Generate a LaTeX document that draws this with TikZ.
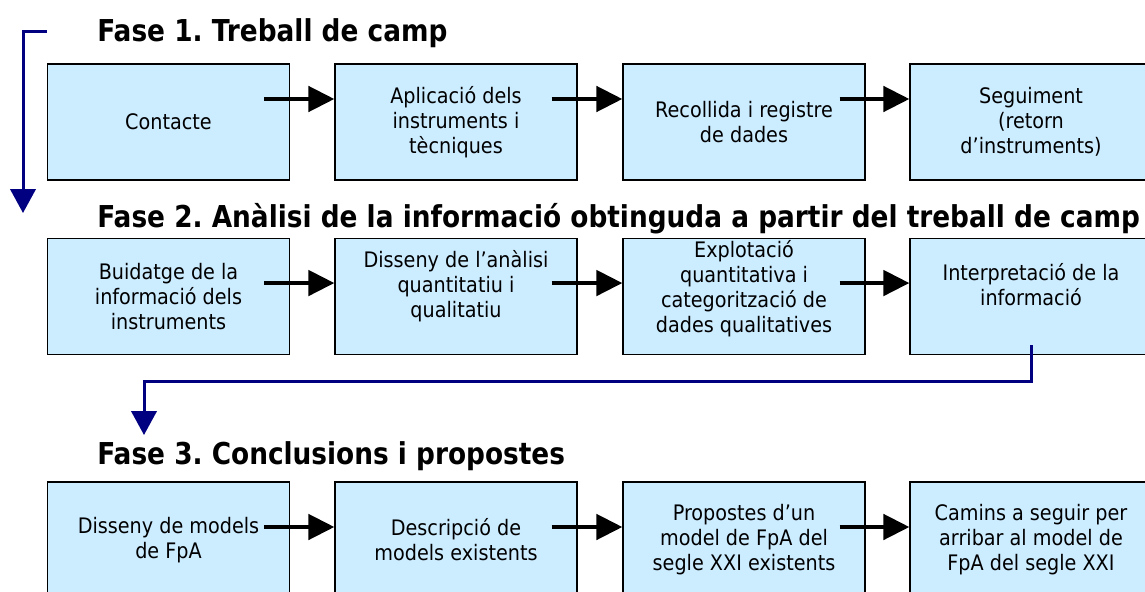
\documentclass[tikz,border=0pt]{standalone}
\usepackage{fontspec}
\setmainfont[FakeStretch=0.9]{DejaVu Sans}
\newfontfamily\fasefont[FakeStretch=0.875]{DejaVu Sans}
\usetikzlibrary{arrows.meta}
\definecolor{blaucel}{RGB}{204,236,255}
\definecolor{blaufosc}{RGB}{0,0,128}
\frenchspacing
% text d'una caixa una mica per sobre del centre
\newcommand{\textamunt}[2]{\raisebox{#1}[\height][\depth]{\begin{tabular}{@{}c@{}}#2\end{tabular}}}

\begin{document}
\begin{tikzpicture}[x=0.75pt,y=-0.75pt,
    caixa/.style={draw=black,line width=1pt,fill=blaucel,minimum width=181.5pt,minimum height=87pt,
        align=center,inner sep=2pt,font=\fontsize{16}{18.75}\selectfont},
    fase/.style={anchor=base west,inner sep=0pt,font=\fasefont\bfseries\fontsize{22.6}{27}\selectfont},
    fletxa/.style={line width=3pt,-{Triangle[length=19.5pt,width=19pt]}},
    salt/.style={draw=blaufosc,line width=2.25pt,-{Triangle[length=18pt,width=19pt]}}]
        \useasboundingbox (0,0) rectangle (1145,592);
        \clip (0,0) rectangle (1145,592);
        % fase 1
        \node[fase] (f1) at (97,42) {Fase 1. Treball de camp};
        \node[caixa] (c1) at (168.5,122) {Contacte};
        \node[caixa] (c2) at (456,122) {Aplicació dels\\instruments i\\tècniques};
        \node[caixa] (c3) at (744,122) {Recollida i registre\\de dades};
        \node[caixa] (c4) at (1031,122) {Seguiment\\(retorn\\d’instruments)};
        \draw[fletxa] ([xshift=-19.5pt,yshift=17.25pt]c1.east) -- ([yshift=17.25pt]c2.west);
        \draw[fletxa] ([xshift=-19.5pt,yshift=17.25pt]c2.east) -- ([yshift=17.25pt]c3.west);
        \draw[fletxa] ([xshift=-19.5pt,yshift=17.25pt]c3.east) -- ([yshift=17.25pt]c4.west);
        % fase 2
        \node[fase] (f2) at (97,227) {Fase 2. Anàlisi de la informació obtinguda a partir del treball de camp};
        \node[caixa] (d1) at (168.5,296.5) {Buidatge de la\\informació dels\\instruments};
        \node[caixa] (d2) at (456,296.5) {\textamunt{6.75pt}{Disseny de l’anàlisi\\quantitatiu i\\qualitatiu}};
        \node[caixa] (d3) at (744,296.5) {\textamunt{5.25pt}{Explotació\\quantitativa i\\categorització de\\dades qualitatives}};
        \node[caixa] (d4) at (1031,296.5) {\textamunt{6.75pt}{Interpretació de la\\informació}};
        \draw[fletxa] ([xshift=-19.5pt,yshift=10.1pt]d1.east) -- ([yshift=10.1pt]d2.west);
        \draw[fletxa] ([xshift=-19.5pt,yshift=10.1pt]d2.east) -- ([yshift=10.1pt]d3.west);
        \draw[fletxa] ([xshift=-19.5pt,yshift=10.1pt]d3.east) -- ([yshift=10.1pt]d4.west);
        % fase 3
        \node[fase] (f3) at (97,464) {Fase 3. Conclusions i propostes};
        \node[caixa] (e1) at (168.5,540) {Disseny de models\\de FpA};
        \node[caixa] (e2) at (456,540) {Descripció de\\models existents};
        \node[caixa] (e3) at (744,540) {Propostes d’un\\model de FpA del\\segle XXI existents};
        \node[caixa] (e4) at (1031,540) {Camins a seguir per\\arribar al model de\\FpA del segle XXI};
        \draw[fletxa] ([xshift=-19.5pt,yshift=9.75pt]e1.east) -- ([yshift=9.75pt]e2.west);
        \draw[fletxa] ([xshift=-19.5pt,yshift=9.75pt]e2.east) -- ([yshift=9.75pt]e3.west);
        \draw[fletxa] ([xshift=-19.5pt,yshift=9.75pt]e3.east) -- ([yshift=9.75pt]e4.west);
        % salts entre fases
        \coordinate (g1) at (23,32);
        \coordinate (g1b) at (23,213);
        \draw[salt] (c1.west |- g1) -- (g1) -- (g1b);
        \coordinate (g2) at (144,381);
        \coordinate (g2b) at (144,435);
        \draw[salt] ([yshift=7.5pt]d4.south) |- (g2) -- (g2b);
    \end{tikzpicture}
\end{document}
